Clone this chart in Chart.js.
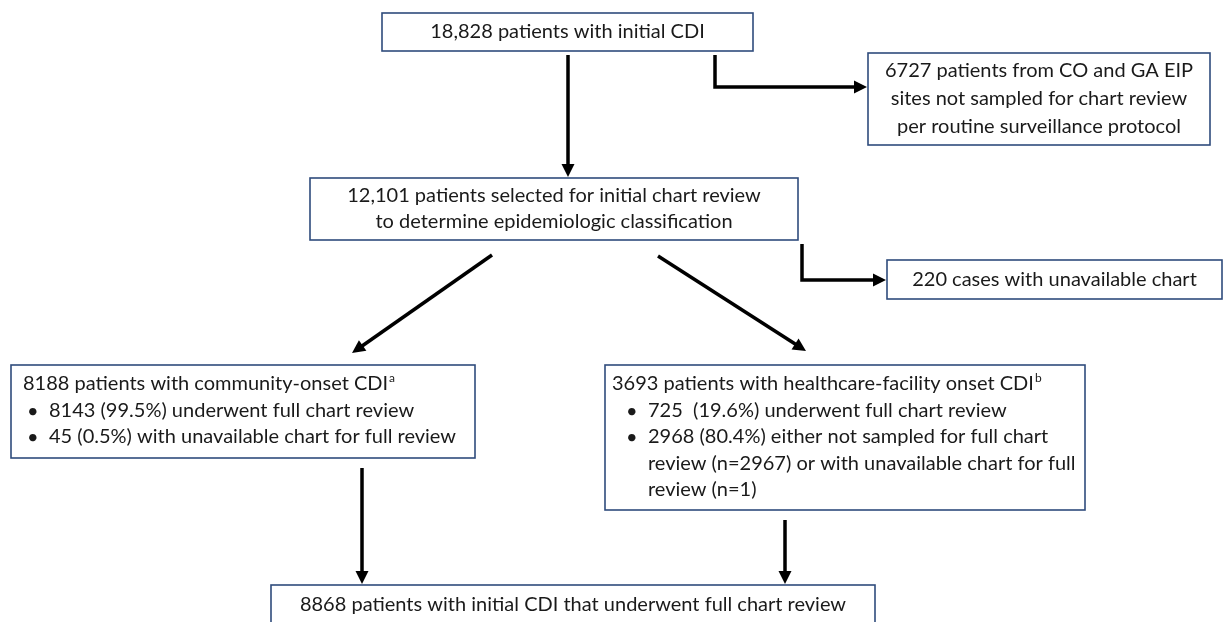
<!DOCTYPE html>
<html>
<head>
<meta charset="utf-8">
<script src="https://cdn.jsdelivr.net/npm/chart.js@4.4.1/dist/chart.umd.min.js"></script>
<style>
    html, body { margin: 0; padding: 0; background: #ffffff; }
    #flow { display: block; }
</style>
</head>
<body>
<canvas id="flow" width="1225" height="622"></canvas>
<script>
// Patient counts
const initialCdi = 18828;
const notSampledSites = 6727;
const selectedForReview = 12101;
const unavailableInitial = 220;
const communityOnset = [8188, 8143, 45];          // total, full review, unavailable
const facilityOnset = [3693, 725, 2968, 2967, 1];  // total, full review, other, not sampled, unavailable
const finalReview = 8868;

const pct = (part, whole) => (part / whole * 100).toFixed(1);
const withComma = n => n.toLocaleString('en-US');

// Text of each box
const boxText = {
    initial: [{ text: `${withComma(initialCdi)} patients with initial CDI` }],
    excluded: [
        { text: `${notSampledSites} patients from CO and GA EIP` },
        { text: 'sites not sampled for chart review' },
        { text: 'per routine surveillance protocol' }
    ],
    selected: [
        { text: `${withComma(selectedForReview)} patients selected for initial chart review` },
        { text: 'to determine epidemiologic classification' }
    ],
    unavailable: [{ text: `${unavailableInitial} cases with unavailable chart` }],
    community: [
        { text: `${communityOnset[0]} patients with community-onset CDI`, sup: 'a' },
        { text: `${communityOnset[1]} (${pct(communityOnset[1], communityOnset[0])}%) underwent full chart review`, bullet: true },
        { text: `${communityOnset[2]} (${pct(communityOnset[2], communityOnset[0])}%) with unavailable chart for full review`, bullet: true }
    ],
    facility: [
        { text: `${facilityOnset[0]} patients with healthcare-facility onset CDI`, sup: 'b' },
        { text: `${facilityOnset[1]}  (${pct(facilityOnset[1], facilityOnset[0])}%) underwent full chart review`, bullet: true },
        { text: `${facilityOnset[2]} (${pct(facilityOnset[2], facilityOnset[0])}%) either not sampled for full chart`, bullet: true },
        { text: `review (n=${facilityOnset[3]}) or with unavailable chart for full`, indent: true },
        { text: `review (n=${facilityOnset[4]})`, indent: true }
    ],
    final: [{ text: `${finalReview} patients with initial CDI that underwent full chart review` }]
};

// Layout of the boxes, in axis units (x: 0..1225, y: 0..622 top-down)
const boxLayout = {
    initial:     { x0: 382, x1: 753,  y0: 13,  y1: 51,  align: 'center', lh: 26 },
    excluded:    { x0: 868, x1: 1210, y0: 53,  y1: 145, align: 'center', lh: 28 },
    selected:    { x0: 310, x1: 798,  y0: 178, y1: 240, align: 'center', lh: 26 },
    unavailable: { x0: 887, x1: 1222, y0: 260, y1: 299, align: 'center', lh: 26 },
    community:   { x0: 11,  x1: 475,  y0: 365, y1: 458, align: 'left', lh: 26.5, pad: [12, 16, 38] },
    facility:    { x0: 605, x1: 1085, y0: 365, y1: 510, align: 'left', lh: 26.5, pad: [7, 21, 43] },
    final:       { x0: 271, x1: 875,  y0: 585, y1: 650, align: 'center', lh: 26, textY: 605 }
};

// Connector paths between the boxes
const arrowPaths = [
    [{ x: 568, y: 55 }, { x: 568, y: 177 }],
    [{ x: 715, y: 55 }, { x: 715, y: 87 }, { x: 867, y: 87 }],
    [{ x: 802, y: 244 }, { x: 802, y: 280 }, { x: 886, y: 280 }],
    [{ x: 492, y: 255 }, { x: 352, y: 353 }],
    [{ x: 658, y: 256 }, { x: 806, y: 351 }],
    [{ x: 362, y: 468 }, { x: 362, y: 584 }],
    [{ x: 785, y: 520 }, { x: 785, y: 584 }]
];

const HEAD_LEN = 13;
const HEAD_HALF = 6.5;
const FONT = '"Lato", "Open Sans", sans-serif';
const FONT_SIZE = 20;

// shorten each path so the line stops under the arrow head
function trimPath(path) {
    const pts = path.map(p => ({ x: p.x, y: p.y }));
    const a = pts[pts.length - 2], b = pts[pts.length - 1];
    const len = Math.hypot(b.x - a.x, b.y - a.y);
    b.x -= (b.x - a.x) / len * (HEAD_LEN - 2);
    b.y -= (b.y - a.y) / len * (HEAD_LEN - 2);
    return pts;
}

const datasets = arrowPaths.map(path => ({
    data: trimPath(path),
    showLine: true,
    borderColor: '#000000',
    borderWidth: 3.5,
    borderCapStyle: 'butt',
    borderJoinStyle: 'miter',
    pointRadius: 0,
    fill: false,
    tension: 0
}));

const flowPlugin = {
    id: 'flowBoxes',
    beforeDatasetsDraw(chart) {
        const ctx = chart.ctx;
        const xs = chart.scales.x, ys = chart.scales.y;
        ctx.save();
        Object.keys(boxLayout).forEach(key => {
            const b = boxLayout[key];
            const left = xs.getPixelForValue(b.x0), right = xs.getPixelForValue(b.x1);
            const top = ys.getPixelForValue(b.y0), bottom = ys.getPixelForValue(b.y1);
            ctx.fillStyle = '#ffffff';
            ctx.fillRect(left, top, right - left, bottom - top);
            ctx.strokeStyle = '#2f4b7c';
            ctx.lineWidth = 1.6;
            ctx.strokeRect(left, top, right - left, bottom - top);

            const lines = boxText[key];
            ctx.fillStyle = '#1a1a1a';
            ctx.textBaseline = 'middle';
            ctx.font = `${FONT_SIZE}px ${FONT}`;
            let firstY;
            if (b.align === 'center') {
                const mid = b.textY !== undefined ? b.textY : (top + bottom) / 2;
                firstY = mid - (lines.length - 1) * b.lh / 2;
            } else {
                firstY = top + 19;
            }
            lines.forEach((ln, i) => {
                const y = firstY + i * b.lh;
                if (b.align === 'center') {
                    ctx.textAlign = 'center';
                    ctx.fillText(ln.text, (left + right) / 2, y);
                } else {
                    ctx.textAlign = 'left';
                    let tx = left + b.pad[0];
                    if (ln.bullet) {
                        ctx.fillText('\u2022', left + b.pad[1], y + 1);
                        tx = left + b.pad[2];
                    } else if (ln.indent) {
                        tx = left + b.pad[2];
                    }
                    ctx.fillText(ln.text, tx, y);
                    if (ln.sup) {
                        const w = ctx.measureText(ln.text).width;
                        ctx.font = `${Math.round(FONT_SIZE * 0.62)}px ${FONT}`;
                        ctx.fillText(ln.sup, tx + w + 1, y - 6);
                        ctx.font = `${FONT_SIZE}px ${FONT}`;
                    }
                }
            });
        });
        ctx.restore();
    },
    afterDatasetsDraw(chart) {
        const ctx = chart.ctx;
        const xs = chart.scales.x, ys = chart.scales.y;
        ctx.save();
        ctx.fillStyle = '#000000';
        arrowPaths.forEach(path => {
            const a = path[path.length - 2], b = path[path.length - 1];
            const ax = xs.getPixelForValue(a.x), ay = ys.getPixelForValue(a.y);
            const bx = xs.getPixelForValue(b.x), by = ys.getPixelForValue(b.y);
            const ang = Math.atan2(by - ay, bx - ax);
            ctx.beginPath();
            ctx.moveTo(bx, by);
            ctx.lineTo(bx - HEAD_LEN * Math.cos(ang) + HEAD_HALF * Math.sin(ang),
                       by - HEAD_LEN * Math.sin(ang) - HEAD_HALF * Math.cos(ang));
            ctx.lineTo(bx - HEAD_LEN * Math.cos(ang) - HEAD_HALF * Math.sin(ang),
                       by - HEAD_LEN * Math.sin(ang) + HEAD_HALF * Math.cos(ang));
            ctx.closePath();
            ctx.fill();
        });
        ctx.restore();
    }
};

document.addEventListener('DOMContentLoaded', function () {
    const ctx = document.getElementById('flow').getContext('2d');
    new Chart(ctx, {
        type: 'scatter',
        data: { datasets: datasets },
        options: {
            responsive: false,
            animation: false,
            layout: { padding: 0 },
            plugins: {
                legend: { display: false },
                tooltip: { enabled: false }
            },
            scales: {
                x: { type: 'linear', min: 0, max: 1225, display: false },
                y: { type: 'linear', min: 0, max: 622, reverse: true, display: false }
            }
        },
        plugins: [flowPlugin]
    });
});
</script>
</body>
</html>
